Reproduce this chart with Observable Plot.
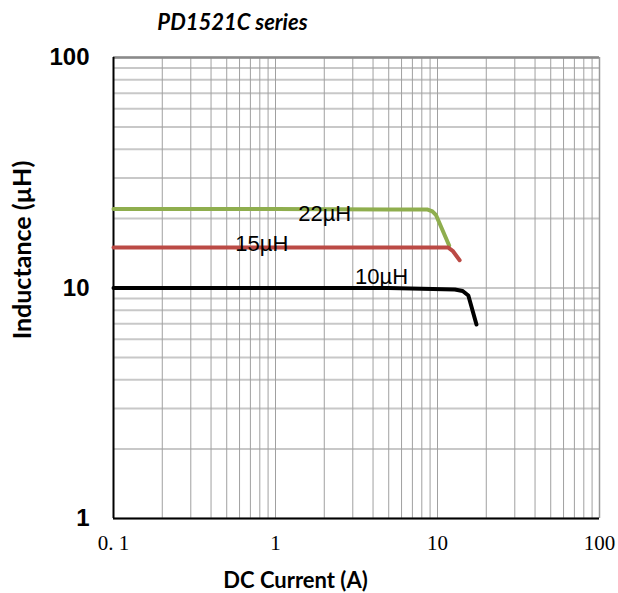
<!DOCTYPE html>
<html>
<head>
<meta charset="utf-8">
<script src="https://cdn.jsdelivr.net/npm/d3@7"></script>
<script src="https://cdn.jsdelivr.net/npm/@observablehq/plot@0.6"></script>
<style>
  html, body { margin: 0; padding: 0; background: #fff; }
  #chart { width: 618px; height: 593px; }
</style>
</head>
<body>
<div id="chart"></div>
<script>
// ---- data ----
const title = "PD1521C series";
const xLabel = "DC Current (A)";
const yLabel = "Inductance (µH)";

const xTicks = [0.1, 1, 10, 100];
const xTickLabels = ["0. 1", "1", "10", "100"];
const yTicks = [1, 10, 100];
const yTickLabels = ["1", "10", "100"];

const seriesNames = ["22µH", "15µH", "10µH"];

const current22 = [0.1, 1, 5, 8.7, 9.3, 9.8, 11.8];
const induct22  = [22, 22, 21.9, 21.9, 21.5, 20.7, 15.3];

const current15 = [0.1, 1, 5, 11.6, 12.4, 13.7];
const induct15  = [15, 15, 15, 15, 14.5, 13.2];

const current10 = [0.1, 1, 5, 12.8, 14.3, 15.5, 17.4];
const induct10  = [10, 10, 10, 9.85, 9.7, 9.28, 6.94];

const labelX = [1.38, 0.565, 3.1];
const labelY = [20.9, 15.6, 11.2];

// ---- build tables ----
const colors = {"22µH": "#8fae4e", "15µH": "#bb4a45", "10µH": "#000000"};
const rows = [];
[[current22, induct22], [current15, induct15], [current10, induct10]].forEach(([xs, ys], i) => {
  xs.forEach((x, j) => rows.push({series: seriesNames[i], x, y: ys[j]}));
});
const labels = seriesNames.map((s, i) => ({series: s, x: labelX[i], y: labelY[i]}));

const gridX = [];
for (const k of [0.1, 1, 10]) for (let i = 1; i <= 9; i++) gridX.push(+(i * k).toPrecision(3));
gridX.push(100);
const gridY = [];
for (const k of [1, 10]) for (let i = 1; i <= 9; i++) gridY.push(+(i * k).toPrecision(3));
gridY.push(100);

const chart = Plot.plot({
  width: 618,
  height: 593,
  marginLeft: 113,
  marginRight: 19,
  marginTop: 57,
  marginBottom: 75,
  style: {fontFamily: "'Liberation Sans', Arial, sans-serif", background: "#fff"},
  x: {type: "log", domain: [0.1, 100]},
  y: {type: "log", domain: [1, 100]},
  marks: [
    Plot.ruleY(gridY, {stroke: "#c8c8c8", strokeWidth: 2}),
    Plot.ruleX(gridX, {stroke: "#a0a0a0", strokeWidth: 1}),
    Plot.ruleY([100], {stroke: "#8a8a8a", strokeWidth: 2.5}),
    Plot.ruleX([100], {stroke: "#9a9a9a", strokeWidth: 1.5}),
    Plot.ruleX([0.1], {stroke: "#000", strokeWidth: 2}),
    Plot.ruleY([1], {stroke: "#000", strokeWidth: 2}),
    Plot.line(rows, {x: "x", y: "y", z: "series", stroke: d => colors[d.series], strokeWidth: 4, strokeLinejoin: "round", strokeLinecap: "round"}),
    Plot.text(labels, {x: "x", y: "y", text: "series", textAnchor: "start", lineAnchor: "middle", fontSize: 22, fill: "#000"}),
    Plot.axisX({ticks: xTicks, tickFormat: d => xTickLabels[xTicks.indexOf(d)], tickSize: 0, tickPadding: 17, fontSize: 21, fontFamily: "'Liberation Serif', 'Times New Roman', serif", label: null}),
    Plot.axisY({ticks: yTicks, tickFormat: d => yTickLabels[yTicks.indexOf(d)], tickSize: 0, tickPadding: 24, fontSize: 24, fontWeight: "bold", label: null}),
    Plot.text([title], {frameAnchor: "top", dx: -124, dy: -35, textAnchor: "middle", lineAnchor: "middle", fontSize: 22, fontWeight: "bold", fontStyle: "italic", fontFamily: "Lato, 'Open Sans', sans-serif", fill: "#000"}),
    Plot.text([xLabel], {frameAnchor: "bottom", dx: -61, dy: 62, textAnchor: "middle", lineAnchor: "middle", fontSize: 22, fontWeight: "bold", fontFamily: "Lato, 'Open Sans', sans-serif", fill: "#000"}),
    Plot.text([yLabel], {frameAnchor: "left", dx: -91, dy: -38, rotate: -90, textAnchor: "middle", lineAnchor: "middle", fontSize: 25, fontWeight: "bold", fontFamily: "Lato, 'Open Sans', sans-serif", fill: "#000"})
  ]
});
document.getElementById("chart").appendChild(chart);
</script>
</body>
</html>
